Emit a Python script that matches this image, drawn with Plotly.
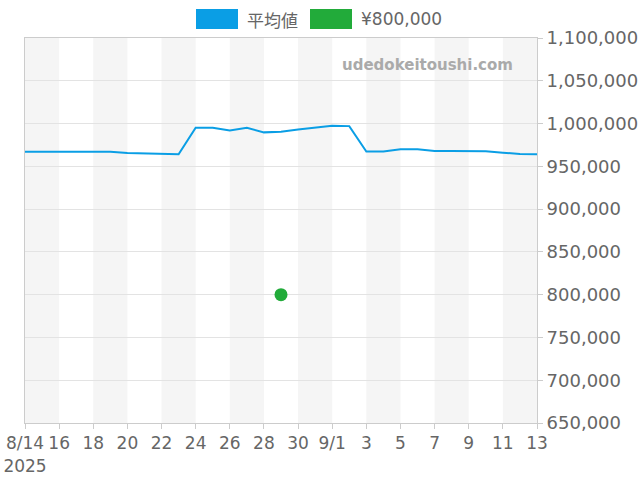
import plotly.graph_objects as go
import pandas as pd

# daily average price series
dates = pd.date_range("2025-08-14", "2025-09-13", freq="D")
avg_price = [967000, 967000, 967000, 966500, 966500, 967000, 965500, 965000,
             964000, 964000, 995000, 995000, 992000, 995000, 989700, 990500,
             993000, 995000, 997300, 997000, 967300, 967300, 970000, 970000,
             968000, 968000, 968000, 967500, 966000, 964500, 964000]

# single listed price
offer_date = ["2025-08-29"]
offer_price = [800000]

tick_dates = pd.date_range("2025-08-14", "2025-09-13", freq="2D")
tick_text = ["8/14<br>2025", "16", "18", "20", "22", "24", "26", "28", "30",
             "9/1", "3", "5", "7", "9", "11", "13"]

BLUE = "#0a9ee5"
GREEN = "#22ab3a"
GREY = "#666666"

fig = go.Figure()

fig.add_trace(go.Scatter(x=dates, y=avg_price, mode="lines", name="平均値",
                         line=dict(color=BLUE, width=2), showlegend=False))
fig.add_trace(go.Scatter(x=offer_date, y=offer_price, mode="markers", name="¥800,000",
                         marker=dict(color=GREEN, size=13), showlegend=False))

# alternating background bands, every other 2-day block
shapes = []
for i in range(0, len(tick_dates) - 1, 2):
    shapes.append(dict(type="rect", xref="x", yref="paper",
                       x0=tick_dates[i], x1=tick_dates[i + 1], y0=0, y1=1,
                       fillcolor="#f5f5f5", line_width=0, layer="below"))

# legend drawn by hand so the swatches are boxes
shapes.append(dict(type="rect", xref="paper", yref="paper", x0=(196 - 25) / 512, x1=(238 - 25) / 512,
                   y0=1 + (38 - 29) / 385, y1=1 + (38 - 9) / 385, fillcolor=BLUE, line_width=0))
shapes.append(dict(type="rect", xref="paper", yref="paper", x0=(310 - 25) / 512, x1=(352 - 25) / 512,
                   y0=1 + (38 - 29) / 385, y1=1 + (38 - 9) / 385, fillcolor=GREEN, line_width=0))

annotations = [
    dict(text="平均値", xref="paper", yref="paper", x=(245 - 25) / 512, y=1 + (38 - 19) / 385,
         xanchor="left", yanchor="middle", showarrow=False,
         font=dict(size=17, color=GREY, family="Noto Sans CJK JP")),
    dict(text="¥800,000", xref="paper", yref="paper", x=(359 - 25) / 512, y=1 + (38 - 19) / 385,
         xanchor="left", yanchor="middle", showarrow=False,
         font=dict(size=17, color=GREY)),
    dict(text="<b>udedokeitoushi.com</b>", xref="paper", yref="paper", x=(515 - 25) / 512,
         y=1 - (65 - 38) / 385, xanchor="right", yanchor="middle", showarrow=False,
         font=dict(size=15, color="#aaaaaa")),
]

fig.update_layout(
    width=640, height=480,
    margin=dict(l=25, r=103, t=38, b=57, autoexpand=False),
    paper_bgcolor="white", plot_bgcolor="white",
    font=dict(family="DejaVu Sans", size=17, color=GREY),
    shapes=shapes, annotations=annotations,
    showlegend=False,
)
fig.update_xaxes(range=[dates[0], dates[-1]], tickvals=tick_dates, ticktext=tick_text,
                 showgrid=False, showline=True, linecolor="#cccccc", mirror=True,
                 ticks="outside", tickcolor="#cccccc", ticklen=5, zeroline=False,
                 automargin=False, tickangle=0, tickfont=dict(size=17),
                 ticklabeloverflow="allow")
fig.update_yaxes(range=[650000, 1100000], dtick=50000, tickformat=",d", side="right",
                 showgrid=True, gridcolor="#e3e3e3", showline=True, linecolor="#cccccc",
                 mirror=True, ticks="outside", tickcolor="#cccccc", ticklen=5, zeroline=False,
                 automargin=False, tickfont=dict(size=18), ticklabeloverflow="allow")

# drop the page's default body margin so the figure sits at the window corner
fig.write_html("out.html", config={"displayModeBar": False},
               post_script="document.body.style.margin='0';")
